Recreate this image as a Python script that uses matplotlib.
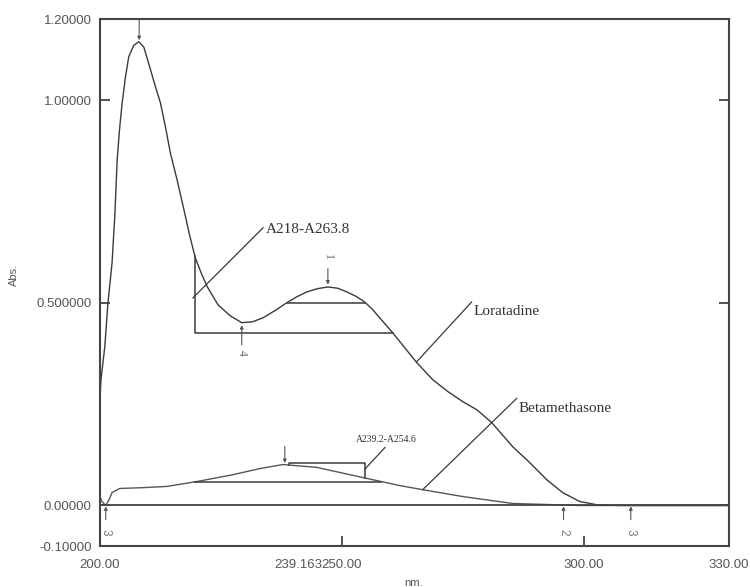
import numpy as np
import matplotlib
matplotlib.use("Agg")
import matplotlib.pyplot as plt
from matplotlib.transforms import blended_transform_factory

# ---------------- data ----------------
lor_x = [200.0, 200.2, 201.0, 201.65, 202.5, 203.06, 203.55, 204.03, 204.58, 205.27,
         205.95, 206.98, 208.01, 209.05, 210.08, 211.46, 212.50, 213.53, 214.56, 215.94,
         217.5, 218.5, 219.7, 221.0, 222.2, 224.4, 226.9, 229.3, 231.5, 233.7,
         236.2, 238.6, 240.7, 242.8, 245.0, 247.1, 249.1, 251.0, 252.9, 254.7,
         256.3, 257.8, 260.5, 263.0, 265.5, 268.8, 271.9, 275.0, 277.9, 281.0,
         285.3, 288.8, 292.3, 295.6, 299.1, 302.6, 307.4, 330.0]
lor_y = [0.261, 0.310, 0.392, 0.500, 0.599, 0.713, 0.852, 0.926, 0.993, 1.057,
         1.107, 1.135, 1.144, 1.131, 1.090, 1.033, 0.993, 0.934, 0.869, 0.803,
         0.722, 0.668, 0.611, 0.571, 0.539, 0.495, 0.468, 0.451, 0.453, 0.463,
         0.481, 0.500, 0.515, 0.527, 0.535, 0.539, 0.536, 0.527, 0.516, 0.502,
         0.484, 0.463, 0.426, 0.389, 0.352, 0.310, 0.281, 0.256, 0.236, 0.204,
         0.145, 0.106, 0.064, 0.032, 0.010, 0.002, 0.000, 0.000]

bet_x = [200.0, 200.4, 201.2, 201.9, 202.5, 204.1, 208.9, 213.8, 220.0, 227.5, 233.0,
         237.8, 244.8, 254.3, 262.0, 266.7, 275.0, 285.3, 299.1, 330.0]
bet_y = [0.022, 0.010, 0.000, 0.015, 0.032, 0.042, 0.044, 0.047, 0.059, 0.076, 0.091,
         0.101, 0.094, 0.069, 0.049, 0.039, 0.022, 0.005, 0.000, 0.000]

x_ticks = [200, 250, 300, 330]
x_tick_labels = ["200.00", "250.00", "300.00", "330.00"]
y_ticks = [1.2, 1.0, 0.5, 0.0, -0.1]
y_tick_labels = ["1.20000", "1.00000", "0.500000", "0.00000", "-0.10000"]

# marker wavelengths (peak-pick labels)
lor_top_peak = 208.1
lor_peak1 = 247.1
lor_valley4 = 229.3
bottom_marks = [(201.2, "3"), (295.8, "2"), (309.7, "3")]
bet_peak = 238.2
# derivative-ratio brackets
lor_bracket = (219.6, 260.5)
lor_level = (238.6, 254.7)
bet_bracket = (239.0, 254.7)
bet_base = (219.6, 258.0)

# ---------------- figure ----------------
LC = "#3a3a3a"
fig = plt.figure(figsize=(7.5, 5.87), dpi=100)
ax = fig.add_axes([0.1333, 0.0698, 0.8387, 0.8978])
ax.set_xlim(200, 330)
ax.set_ylim(-0.1, 1.2)

ax.plot(lor_x, lor_y, color=LC, lw=1.0, solid_joinstyle="round")
ax.plot(bet_x, bet_y, color="#555555", lw=1.0, solid_joinstyle="round")
ax.axhline(0, color="#444444", lw=1.3)

for s in ax.spines.values():
    s.set_color("#444444")
    s.set_linewidth(1.5)

tick_font = dict(family="Liberation Sans", size=9.5)
ax.set_xticks(x_ticks)
ax.set_xticklabels(x_tick_labels, color="#555555", **tick_font)
ax.set_yticks(y_ticks)
ax.set_yticklabels(y_tick_labels, color="#555555", **tick_font)
ax.tick_params(axis="both", direction="in", length=7, width=1.3, color="#444444")
ax.tick_params(axis="x", pad=9)
ax.tick_params(axis="y", right=True, pad=6)

trans = blended_transform_factory(ax.transData, ax.transAxes)
ax.annotate("239.163", xy=(245.9, 0), xycoords=trans, xytext=(0, -9),
            textcoords="offset points", ha="right", va="top",
            color="#555555", **tick_font)

fig.text(0.018, 0.531, "Abs.", rotation=90, ha="center", va="center",
         color="#555555", family="Liberation Sans", size=8)
fig.text(0.551, 0.007, "nm.", ha="center", va="center",
         color="#555555", family="Liberation Sans", size=8)

def curve(xs, ys, x):
    return float(np.interp(x, xs, ys))

ap = dict(arrowstyle="-|>", color="#555555", lw=0.8, mutation_scale=5,
          shrinkA=0, shrinkB=0)

# top peak arrow
ax.annotate("", xy=(lor_top_peak, curve(lor_x, lor_y, lor_top_peak) + 0.005),
            xytext=(lor_top_peak, 1.2), arrowprops=ap)
# peak 1
yp = curve(lor_x, lor_y, lor_peak1)
ax.annotate("", xy=(lor_peak1, yp + 0.006), xytext=(lor_peak1, yp + 0.045), arrowprops=ap)
ax.text(lor_peak1, yp + 0.075, "1", rotation=-90, ha="center", va="center",
        color="#666666", family="Liberation Serif", size=8.5)
# valley 4
yv = curve(lor_x, lor_y, lor_valley4)
ax.annotate("", xy=(lor_valley4, yv - 0.006), xytext=(lor_valley4, yv - 0.055), arrowprops=ap)
ax.text(lor_valley4, yv - 0.075, "4", rotation=-90, ha="center", va="center",
        color="#666666", family="Liberation Serif", size=8.5)
# bottom marks
for xm, lab in bottom_marks:
    ax.annotate("", xy=(xm, -0.002), xytext=(xm, -0.035), arrowprops=ap)
    ax.text(xm, -0.067, lab, rotation=-90, ha="center", va="center",
            color="#777777", family="Liberation Sans", size=8.5)
# betamethasone peak arrow
ybp = curve(bet_x, bet_y, bet_peak)
ax.annotate("", xy=(bet_peak, ybp + 0.004), xytext=(bet_peak, ybp + 0.045), arrowprops=ap)

# Loratadine bracket
x1, x2 = lor_bracket
ybase = curve(lor_x, lor_y, x2)
ax.plot([x1, x1, x2], [curve(lor_x, lor_y, x1), ybase, ybase], color=LC, lw=1.1)
l1, l2 = lor_level
ylev = curve(lor_x, lor_y, l1)
ax.plot([l1, l2], [ylev, ylev], color=LC, lw=1.1)

# Betamethasone brackets
b1, b2 = bet_bracket
ytop = 0.106
ax.plot([b1, b1, b2, b2], [curve(bet_x, bet_y, b1), ytop, ytop, curve(bet_x, bet_y, b2)],
        color=LC, lw=1.1)
g1, g2 = bet_base
yg = curve(bet_x, bet_y, g1)
ax.plot([g1, g2], [yg, yg], color=LC, lw=1.1)

# leader lines and labels
ax.plot([219.2, 233.7], [0.512, 0.685], color=LC, lw=0.9)
ax.text(234.3, 0.680, "A218-A263.8", ha="left", va="center", color="#333333",
        family="Liberation Serif", size=11)
ax.plot([265.5, 276.8], [0.355, 0.502], color=LC, lw=0.9)
ax.text(277.3, 0.478, "Loratadine", ha="left", va="center", color="#333333",
        family="Liberation Serif", size=11)
ax.plot([266.7, 286.1], [0.039, 0.264], color=LC, lw=0.9)
ax.text(286.6, 0.239, "Betamethasone", ha="left", va="center", color="#333333",
        family="Liberation Serif", size=11)
ax.plot([254.7, 258.9], [0.089, 0.143], color=LC, lw=0.9)
ax.text(259.1, 0.163, "A239.2-A254.6", ha="center", va="center", color="#333333",
        family="Liberation Serif", size=7)

fig.savefig("out.png", dpi=100, facecolor="white")
